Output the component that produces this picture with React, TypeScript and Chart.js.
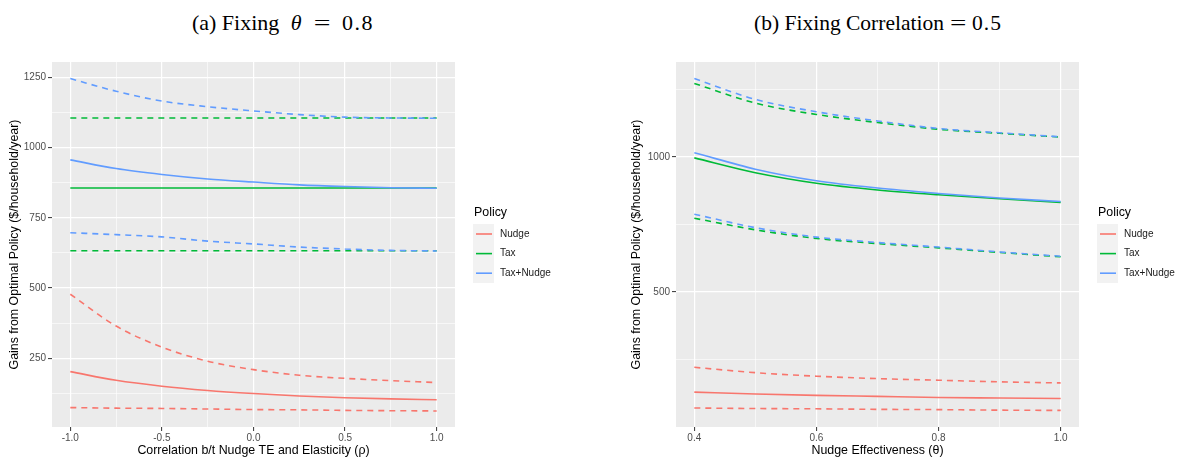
import React, { useEffect, useRef } from 'react';
import { Chart, registerables } from 'chart.js';

Chart.register(...registerables);

// ---------- data ----------
const policies = ['Nudge', 'Tax', 'Tax+Nudge'];
const policyColors = ['#F8766D', '#00BA38', '#619CFF'];

// Panel (a): x = correlation rho
const rhoValues = [-1, -0.75, -0.5, -0.25, 0, 0.25, 0.5, 0.75, 1];
const aNudge = [203, 172, 151, 136, 125, 116, 110, 106, 103];
const aNudgeLow = [75, 73, 72, 70, 68, 67, 65, 64, 63];
const aNudgeHigh = [478, 365, 290, 240, 210, 190, 179, 171, 164];
const aTax = [856, 856, 856, 856, 856, 856, 856, 856, 856];
const aTaxLow = [633, 633, 633, 633, 633, 633, 633, 633, 633];
const aTaxHigh = [1105, 1105, 1105, 1105, 1105, 1105, 1105, 1105, 1105];
const aBoth = [956, 925, 904, 888, 877, 867, 861, 857, 855];
const aBothLow = [697, 690, 682, 667, 657, 646, 639, 634, 632];
const aBothHigh = [1245, 1200, 1165, 1145, 1130, 1117, 1108, 1105, 1104];

// Panel (b): x = nudge effectiveness theta
const thetaValues = [0.4, 0.5, 0.6, 0.7, 0.8, 0.9, 1.0];
const bNudge = [128, 121, 116, 112, 108, 106, 104];
const bNudgeLow = [69, 67, 66, 64, 63, 61, 60];
const bNudgeHigh = [220, 200, 187, 178, 172, 166, 162];
const bTax = [997, 942, 903, 878, 860, 845, 832];
const bTaxLow = [773, 730, 698, 679, 663, 646, 630];
const bTaxHigh = [1273, 1200, 1158, 1128, 1103, 1088, 1074];
const bBoth = [1016, 955, 912, 885, 865, 848, 835];
const bBothLow = [788, 738, 703, 683, 666, 648, 632];
const bBothHigh = [1291, 1214, 1168, 1134, 1106, 1090, 1075];

// ticks
const aXMajor = [-1, -0.5, 0, 0.5, 1];
const aXMinor = [-0.75, -0.25, 0.25, 0.75];
const aYMajor = [250, 500, 750, 1000, 1250];
const aYMinor = [125, 375, 625, 875, 1125];
const bXMajor = [0.4, 0.6, 0.8, 1.0];
const bXMinor = [0.5, 0.7, 0.9];
const bYMajor = [500, 1000];
const bYMinor = [250, 750, 1250];

const yTitle = 'Gains from Optimal Policy ($/household/year)';
const aXTitle = 'Correlation b/t Nudge TE and Elasticity (\u03C1)';
const bXTitle = 'Nudge Effectiveness (\u03B8)';

const SANS = "'Liberation Sans', Arial, Helvetica, sans-serif";
const TITLE_SIZE = 12.4;
const TEXT_SIZE = 10;

function pts(xs: number[], ys: number[]) {
  return xs.map((x, i) => ({ x, y: ys[i] }));
}

type Panel = {
  left: number;
  width: number;
  padLeft: number;
  yWidth: number;
  padRight: number;
  xs: number[];
  series: number[][][]; // per policy: [mid, low, high]
  xMin: number;
  xMax: number;
  yMin: number;
  yMax: number;
  xMajor: number[];
  xMinor: number[];
  yMajor: number[];
  yMinor: number[];
  xTitle: string;
  legendX: number;
};

const panels: Panel[] = [
  {
    left: 0,
    width: 590,
    padLeft: 4,
    yWidth: 48,
    padRight: 135,
    xs: rhoValues,
    series: [
      [aNudge, aNudgeLow, aNudgeHigh],
      [aTax, aTaxLow, aTaxHigh],
      [aBoth, aBothLow, aBothHigh],
    ],
    xMin: -1.1,
    xMax: 1.1,
    yMin: 6,
    yMax: 1304,
    xMajor: aXMajor,
    xMinor: aXMinor,
    yMajor: aYMajor,
    yMinor: aYMinor,
    xTitle: aXTitle,
    legendX: 474,
  },
  {
    left: 590,
    width: 592,
    padLeft: 36,
    yWidth: 50,
    padRight: 103,
    xs: thetaValues,
    series: [
      [bNudge, bNudgeLow, bNudgeHigh],
      [bTax, bTaxLow, bTaxHigh],
      [bBoth, bBothLow, bBothHigh],
    ],
    xMin: 0.37,
    xMax: 1.03,
    yMin: -1.5,
    yMax: 1352.6,
    xMajor: bXMajor,
    xMinor: bXMinor,
    yMajor: bYMajor,
    yMinor: bYMinor,
    xTitle: bXTitle,
    legendX: 508,
  },
];

const CANVAS_TOP = 40;
const CANVAS_H = 424;

function isIn(v: number, list: number[]) {
  return list.some((m) => Math.abs(m - v) < 1e-9);
}

function PanelChart({ p }: { p: Panel }) {
  const ref = useRef<HTMLCanvasElement | null>(null);
  useEffect(() => {
    if (!ref.current) return;
    const datasets: any[] = [];
    // Tax+Nudge first so it is drawn on top
    for (let k = policies.length - 1; k >= 0; k--) {
      const [mid, lo, hi] = p.series[k];
      const color = policyColors[k];
      [hi, mid, lo].forEach((arr, j) => {
        datasets.push({
          label: policies[k] + (j === 1 ? '' : j === 0 ? ' upper' : ' lower'),
          data: pts(p.xs, arr),
          borderColor: color,
          backgroundColor: color,
          borderWidth: 1.6,
          borderDash: j === 1 ? [] : [6, 5],
          pointRadius: 0,
          fill: false,
          cubicInterpolationMode: 'monotone',
        });
      });
    }

    const bgPlugin = {
      id: 'panelBg',
      beforeDraw(chart: any) {
        const { ctx, chartArea } = chart;
        ctx.save();
        ctx.fillStyle = '#EBEBEB';
        ctx.fillRect(chartArea.left, chartArea.top, chartArea.right - chartArea.left, chartArea.bottom - chartArea.top);
        ctx.restore();
      },
    };

    const legendPlugin = {
      id: 'ggLegend',
      afterDraw(chart: any) {
        const ctx = chart.ctx;
        const lx = p.legendX;
        ctx.save();
        ctx.textBaseline = 'middle';
        ctx.textAlign = 'left';
        ctx.fillStyle = '#000000';
        ctx.font = `${TITLE_SIZE}px ${SANS}`;
        ctx.fillText('Policy', lx, 173);
        ctx.fillStyle = '#F2F2F2';
        ctx.fillRect(lx - 1, 184, 21, 59);
        policies.forEach((name, i) => {
          const y = 194 + i * 19.6;
          ctx.strokeStyle = policyColors[i];
          ctx.lineWidth = 1.6;
          ctx.beginPath();
          ctx.moveTo(lx + 2, y);
          ctx.lineTo(lx + 18, y);
          ctx.stroke();
          ctx.fillStyle = '#1A1A1A';
          ctx.font = `${TEXT_SIZE}px ${SANS}`;
          ctx.fillText(name, lx + 26, y);
        });
        ctx.restore();
      },
    };

    const gridCommon = (major: number[]) => ({
      color: '#FFFFFF',
      lineWidth: (c: any) => (c.tick && isIn(c.tick.value, major) ? 1.2 : 0.6),
      tickColor: (c: any) => (c.tick && isIn(c.tick.value, major) ? '#333333' : 'rgba(0,0,0,0)'),
      tickWidth: 1,
      tickLength: 4,
      drawTicks: true,
      drawOnChartArea: true,
    });

    const chart = new Chart(ref.current, {
      type: 'line',
      data: { datasets },
      plugins: [bgPlugin, legendPlugin],
      options: {
        animation: false,
        responsive: false,
        maintainAspectRatio: false,
        layout: { padding: { left: p.padLeft, right: p.padRight, top: 22, bottom: 0 } },
        plugins: { legend: { display: false }, tooltip: { enabled: false }, title: { display: false } },
        scales: {
          x: {
            type: 'linear',
            min: p.xMin,
            max: p.xMax,
            border: { display: false },
            grid: gridCommon(p.xMajor) as any,
            afterBuildTicks: (s: any) => {
              s.ticks = [...p.xMajor, ...p.xMinor].sort((a, b) => a - b).map((v) => ({ value: v }));
            },
            afterFit: (s: any) => {
              s.height = 37;
            },
            ticks: {
              autoSkip: false,
              maxRotation: 0,
              padding: 1,
              color: '#4D4D4D',
              font: { family: SANS, size: TEXT_SIZE },
              callback: (v: any) => (isIn(Number(v), p.xMajor) ? Number(v).toFixed(1) : ''),
            },
            title: {
              display: true,
              text: p.xTitle,
              color: '#000000',
              font: { family: SANS, size: TITLE_SIZE },
              padding: { top: 0, bottom: 6 },
            },
          },
          y: {
            type: 'linear',
            min: p.yMin,
            max: p.yMax,
            border: { display: false },
            grid: gridCommon(p.yMajor) as any,
            afterBuildTicks: (s: any) => {
              s.ticks = [...p.yMajor, ...p.yMinor].sort((a, b) => a - b).map((v) => ({ value: v }));
            },
            afterFit: (s: any) => {
              s.width = p.yWidth;
            },
            ticks: {
              autoSkip: false,
              padding: 2,
              color: '#4D4D4D',
              font: { family: SANS, size: TEXT_SIZE },
              callback: (v: any) => (isIn(Number(v), p.yMajor) ? String(Math.round(Number(v))) : ''),
            },
            title: {
              display: true,
              text: yTitle,
              color: '#000000',
              font: { family: SANS, size: TITLE_SIZE },
              padding: { top: 3, bottom: 0 },
            },
          },
        },
      } as any,
    });
    return () => chart.destroy();
  }, [p]);

  return (
    <canvas
      ref={ref}
      width={p.width}
      height={CANVAS_H}
      style={{ position: 'absolute', left: p.left, top: CANVAS_TOP, width: p.width, height: CANVAS_H }}
    />
  );
}

const titleStyle: React.CSSProperties = {
  position: 'absolute',
  top: 8,
  fontFamily: "'Liberation Serif', 'DejaVu Serif', 'Times New Roman', serif",
  fontSize: 22,
  lineHeight: '30px',
  textAlign: 'center',
  color: '#000',
  whiteSpace: 'nowrap',
};

export default function App() {
  return (
    <div style={{ position: 'absolute', left: 0, top: 0, width: 1182, height: 464, background: '#FFFFFF', overflow: 'hidden' }}>
      <div style={{ ...titleStyle, left: 0, width: 566 }}>
        (a) Fixing <i style={{ marginLeft: 6 }}>&theta;</i>
        <span style={{ margin: '0 14px', display: 'inline-block', transform: 'scaleX(1.35)' }}>=</span>
        <span style={{ letterSpacing: 1.5 }}>0.8</span>
      </div>
      <div style={{ ...titleStyle, left: 578, width: 600, fontSize: 21.5 }}>
        (b) Fixing Correlation
        <span style={{ margin: '0 8px', display: 'inline-block', transform: 'scaleX(1.35)' }}>=</span>
        <span style={{ letterSpacing: 1 }}>0.5</span>
      </div>
      {panels.map((p, i) => (
        <PanelChart key={i} p={p} />
      ))}
    </div>
  );
}
